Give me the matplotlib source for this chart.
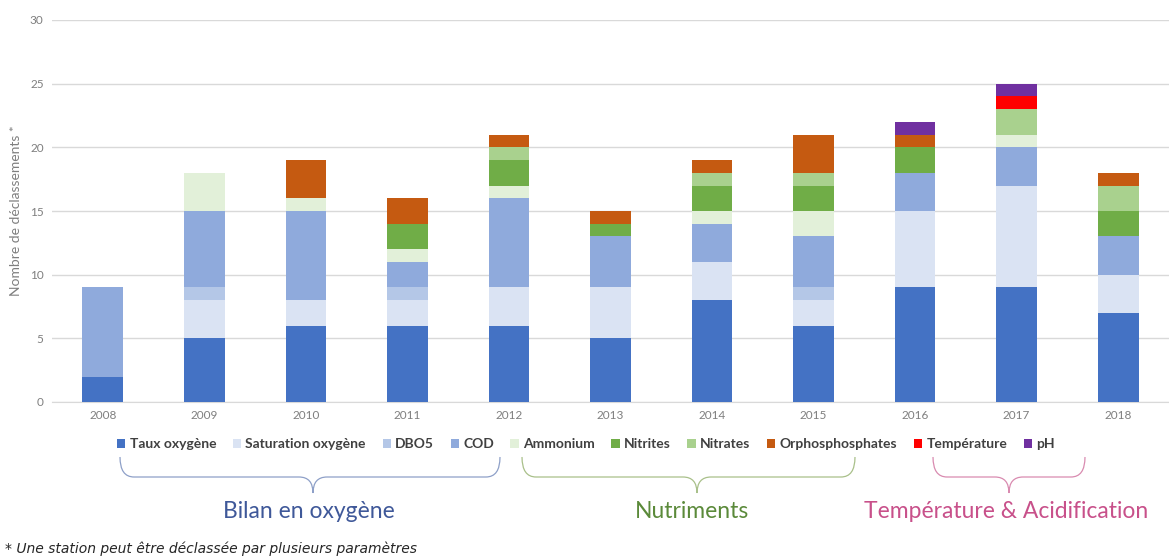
import numpy as np
import matplotlib.pyplot as plt
from matplotlib.path import Path
from matplotlib.patches import PathPatch

plt.rcParams['font.family'] = ['Lato', 'DejaVu Sans']

# Data
years = ["2008", "2009", "2010", "2011", "2012", "2013", "2014", "2015", "2016", "2017", "2018"]
params = ["Taux oxygène", "Saturation oxygène", "DBO5", "COD", "Ammonium",
          "Nitrites", "Nitrates", "Orphosphosphates", "Température", "pH"]
taux_oxygene = [2, 5, 6, 6, 6, 5, 8, 6, 9, 9, 7]
saturation_oxygene = [0, 3, 2, 2, 3, 4, 3, 2, 6, 8, 3]
dbo5 = [0, 1, 0, 1, 0, 0, 0, 1, 0, 0, 0]
cod = [7, 6, 7, 2, 7, 4, 3, 4, 3, 3, 3]
ammonium = [0, 3, 1, 1, 1, 0, 1, 2, 0, 1, 0]
nitrites = [0, 0, 0, 2, 2, 1, 2, 2, 2, 0, 2]
nitrates = [0, 0, 0, 0, 1, 0, 1, 1, 0, 2, 2]
orthophosphates = [0, 0, 3, 2, 1, 1, 1, 3, 1, 0, 1]
temperature = [0, 0, 0, 0, 0, 0, 0, 0, 0, 1, 0]
ph = [0, 0, 0, 0, 0, 0, 0, 0, 1, 1, 0]

series = [taux_oxygene, saturation_oxygene, dbo5, cod, ammonium,
          nitrites, nitrates, orthophosphates, temperature, ph]
colors = ["#4472C4", "#DAE3F3", "#B4C7E7", "#8FAADC", "#E2F0D9",
          "#70AD47", "#A9D18E", "#C55A11", "#FF0000", "#7030A0"]

W, H = 1169, 559
fig = plt.figure(figsize=(W / 100, H / 100), dpi=100)
ax = fig.add_axes([52 / W, 1 - 402 / H, (W - 52) / W, (402 - 20) / H])

x = np.arange(len(years))
bottom = np.zeros(len(years))
handles = []
for name, vals, col in zip(params, series, colors):
    b = ax.bar(x, vals, 0.4, bottom=bottom, color=col, label=name, zorder=3)
    handles.append(b)
    bottom += np.array(vals)

ax.set_xlim(-0.5, len(years) - 0.5)
ax.set_ylim(0, 30)
ax.set_yticks(range(0, 31, 5))
ax.set_xticks(x, years)
ax.grid(axis='y', color='#D9D9D9', linewidth=1, zorder=0)
for s in ['top', 'right', 'left']:
    ax.spines[s].set_visible(False)
ax.spines['bottom'].set_color('#D9D9D9')
ax.tick_params(axis='both', length=0, labelsize=8.5, labelcolor='#7F7F7F', pad=6)
ax.set_ylabel("Nombre de déclassements *", fontsize=10, color='#7F7F7F', labelpad=6)

leg = fig.legend(handles=handles, loc='center', bbox_to_anchor=(586 / W, 1 - 444 / H),
                 ncol=10, frameon=False, fontsize=10, handlelength=0.6, handleheight=0.6,
                 handletextpad=0.3, columnspacing=1.2)
for t in leg.get_texts():
    t.set_color('#404040')
    t.set_fontweight('bold')


def brace(x0, x1, xc, color):
    # curly brace in pixel coords (y measured from top), converted to figure fraction
    yt, ym, yb = 457, 477, 493
    r = 14
    pts = [(x0, yt), (x0, ym), (x0 + r, ym),
           (xc - r, ym), (xc, ym), (xc, yb),
           (xc, ym), (xc + r, ym),
           (x1 - r, ym), (x1, ym), (x1, yt)]
    codes = [Path.MOVETO, Path.CURVE3, Path.CURVE3,
             Path.LINETO, Path.CURVE3, Path.CURVE3,
             Path.CURVE3, Path.CURVE3,
             Path.LINETO, Path.CURVE3, Path.CURVE3]
    verts = [(px / W, 1 - py / H) for px, py in pts]
    fig.patches.append(PathPatch(Path(verts, codes), fill=False, edgecolor=color,
                                 linewidth=0.9, transform=fig.transFigure))


brace(120, 500, 313, '#8EA0C8')
brace(522, 855, 697, '#A9C08A')
brace(933, 1085, 1009, '#D98BB0')

fig.text(309 / W, 1 - 512 / H, "Bilan en oxygène", ha='center', va='center',
         fontsize=16.5, color='#3F5899')
fig.text(692 / W, 1 - 512 / H, "Nutriments", ha='center', va='center',
         fontsize=16.5, color='#5B8A3A')
fig.text(1006 / W, 1 - 512 / H, "Température & Acidification", ha='center', va='center',
         fontsize=16.5, color='#C8508A')
fig.text(5 / W, 1 - 549 / H, "* Une station peut être déclassée par plusieurs paramètres",
         ha='left', va='center', fontsize=10, style='italic', color='#262626',
         family='DejaVu Sans')

fig.savefig("out.png", dpi=100)
